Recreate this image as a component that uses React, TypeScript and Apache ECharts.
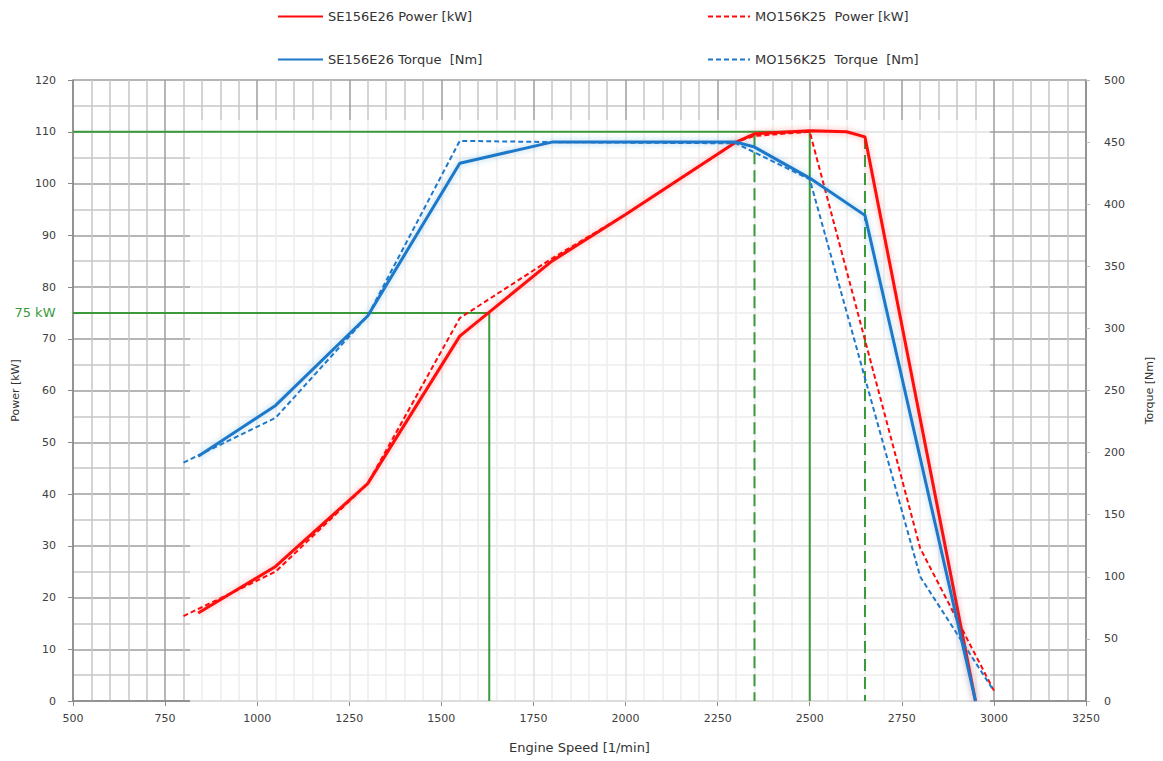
import React, { useEffect, useRef } from "react";
import * as echarts from "echarts";

// Engine speed ticks [1/min]
const speedTicks = [500, 750, 1000, 1250, 1500, 1750, 2000, 2250, 2500, 2750, 3000, 3250];

// SE156E26 Power [kW]
const seRpmPower = [840, 1050, 1300, 1550, 1800, 2000, 2300, 2350, 2500, 2600, 2650, 2950];
const sePower = [17, 26, 42, 70.5, 85, 94, 108, 109.6, 110.2, 110, 109, 0];

// MO156K25 Power [kW]
const moRpmPower = [800, 1050, 1300, 1550, 1800, 2000, 2300, 2350, 2500, 2800, 3000];
const moPower = [16.4, 25, 42, 74, 85.5, 94, 108, 109.2, 110, 29.5, 2];

// SE156E26 Torque [Nm]
const seRpmTorque = [840, 1050, 1300, 1550, 1800, 2300, 2350, 2500, 2650, 2950];
const seTorque = [197, 238, 310, 433, 450, 450, 446, 421, 391, 0];

// MO156K25 Torque [Nm]
const moRpmTorque = [800, 1050, 1300, 1550, 1800, 2300, 2500, 2800, 3000];
const moTorque = [192, 228, 310, 451, 450, 449, 420, 100, 8];

// Reference lines
const ratedLine = [[500, 110], [2500, 110], [2500, 0]];
const kw75Line = [[500, 75], [1630, 75], [1630, 0]];
const dashRef1 = [[2350, 109.5], [2350, 0]];
const dashRef2 = [[2650, 109], [2650, 0]];

const names = [
  "SE156E26 Power [kW]",
  "MO156K25  Power [kW]",
  "SE156E26 Torque  [Nm]",
  "MO156K25  Torque  [Nm]",
];

const RED = "#ff0a0a";
const BLUE = "#1f78c8";
const GREEN = "#3a9a3a";

export default function App() {
  const ref = useRef<HTMLDivElement>(null);
  useEffect(() => {
    const chart = echarts.init(ref.current!, null, { renderer: "svg" });
    const zip = (xs: number[], ys: number[]) => xs.map((x, i) => [x, ys[i]]);
    const font = "'DejaVu Sans', 'Liberation Sans', Arial, sans-serif";
    const labelStyle = {
      color: "#404040",
      fontSize: 11,
      fontFamily: font,
      formatter: (v: number) => String(v),
    };
    const legendBase = {
      selectedMode: false,
      itemHeight: 12,
      itemGap: 6,
      itemStyle: { opacity: 0 },
      textStyle: { color: "#333", fontSize: 13, fontFamily: font },
    };
    const option: any = {
      animation: false,
      backgroundColor: "#ffffff",
      legend: [
        { ...legendBase, itemWidth: 45, data: [names[0]], left: 272, top: 5 },
        { ...legendBase, itemWidth: 42, data: [names[1]], left: 702, top: 5 },
        { ...legendBase, itemWidth: 45, data: [names[2]], left: 272, top: 48 },
        { ...legendBase, itemWidth: 42, data: [names[3]], left: 702, top: 48 },
      ],
      grid: { left: 73, top: 80, width: 1022, height: 621, containLabel: false },
      graphic: [
        {
          type: "rect",
          z: 1,
          silent: true,
          shape: { x: 190, y: 120, width: 800, height: 582 },
          style: { fill: "rgba(255,255,255,0.68)" },
        },
      ],
      xAxis: {
        type: "value",
        min: speedTicks[0],
        max: speedTicks[speedTicks.length - 1],
        interval: 250,
        name: "Engine Speed [1/min]",
        nameLocation: "middle",
        nameGap: 40,
        nameTextStyle: { color: "#333", fontSize: 13, fontFamily: font },
        axisLine: { lineStyle: { color: "#888", width: 1.5 } },
        axisTick: { show: true, length: 5, lineStyle: { color: "#888" } },
        axisLabel: { ...labelStyle, margin: 12 },
        splitLine: { show: true, lineStyle: { color: "#9e9e9e", width: 1.5 } },
        minorTick: { show: false, splitNumber: 5 },
        minorSplitLine: { show: true, lineStyle: { color: "#c6c6c6", width: 1.5 } },
        z: 0,
      },
      yAxis: [
        {
          type: "value",
          min: 0,
          max: 120,
          interval: 10,
          name: "Power [kW]",
          nameLocation: "middle",
          nameGap: 52,
          nameRotate: 90,
          nameTextStyle: { color: "#333", fontSize: 11, fontFamily: font },
          axisLine: { show: true, lineStyle: { color: "#888", width: 1.5 } },
          axisTick: { show: true, length: 5, lineStyle: { color: "#888" } },
          axisLabel: { ...labelStyle, margin: 17 },
          splitLine: { show: true, lineStyle: { color: "#9e9e9e", width: 1.5 } },
          minorTick: { show: false, splitNumber: 2 },
          minorSplitLine: { show: true, lineStyle: { color: "#c6c6c6", width: 1.5 } },
          z: 0,
        },
        {
          type: "value",
          min: 0,
          max: 500,
          interval: 50,
          position: "right",
          name: "Torque [Nm]",
          nameLocation: "middle",
          nameGap: 58,
          nameRotate: 90,
          nameTextStyle: { color: "#333", fontSize: 11, fontFamily: font },
          axisLine: { show: true, lineStyle: { color: "#888", width: 1.5 } },
          axisTick: { show: true, length: 4, lineStyle: { color: "#bbb" } },
          axisLabel: { ...labelStyle, margin: 18 },
          splitLine: { show: false },
          z: 0,
        },
      ],
      series: [
        {
          type: "line",
          name: "ref110",
          data: ratedLine,
          symbol: "none",
          silent: true,
          z: 3,
          lineStyle: { color: GREEN, width: 2 },
        },
        {
          type: "line",
          name: "ref75",
          data: [
            {
              value: kw75Line[0],
              symbol: "circle",
              symbolSize: 1,
              itemStyle: { color: GREEN },
              label: {
                show: true,
                position: "left",
                distance: 17,
                formatter: "75 kW",
                color: GREEN,
                fontSize: 13,
                fontFamily: font,
              },
            },
            kw75Line[1],
            kw75Line[2],
          ],
          symbol: "none",
          silent: true,
          z: 3,
          lineStyle: { color: GREEN, width: 2 },
        },
        {
          type: "line",
          name: "refd1",
          data: dashRef1,
          symbol: "none",
          silent: true,
          z: 3,
          lineStyle: { color: GREEN, width: 2, type: [12, 6] },
        },
        {
          type: "line",
          name: "refd2",
          data: dashRef2,
          symbol: "none",
          silent: true,
          z: 3,
          lineStyle: { color: GREEN, width: 2, type: [12, 6] },
        },
        {
          type: "line",
          name: names[0],
          data: zip(seRpmPower, sePower),
          symbol: "none",
          z: 5,
          itemStyle: { color: RED },
          lineStyle: { color: RED, width: 3, shadowBlur: 6, shadowColor: "rgba(255,0,0,0.35)" },
        },
        {
          type: "line",
          name: names[1],
          data: zip(moRpmPower, moPower),
          symbol: "none",
          z: 5,
          itemStyle: { color: RED },
          lineStyle: { color: RED, width: 2, type: [5, 3] },
        },
        {
          type: "line",
          name: names[2],
          yAxisIndex: 1,
          data: zip(seRpmTorque, seTorque),
          symbol: "none",
          z: 5,
          itemStyle: { color: BLUE },
          lineStyle: { color: BLUE, width: 3, shadowBlur: 6, shadowColor: "rgba(31,120,200,0.35)" },
        },
        {
          type: "line",
          name: names[3],
          yAxisIndex: 1,
          data: zip(moRpmTorque, moTorque),
          symbol: "none",
          z: 5,
          itemStyle: { color: BLUE },
          lineStyle: { color: BLUE, width: 2, type: [5, 3] },
        },
      ],
    };
    chart.setOption(option);
    return () => chart.dispose();
  }, []);
  return (
    <div
      ref={ref}
      style={{ position: "fixed", left: 0, top: 0, width: 1163, height: 761 }}
    />
  );
}
